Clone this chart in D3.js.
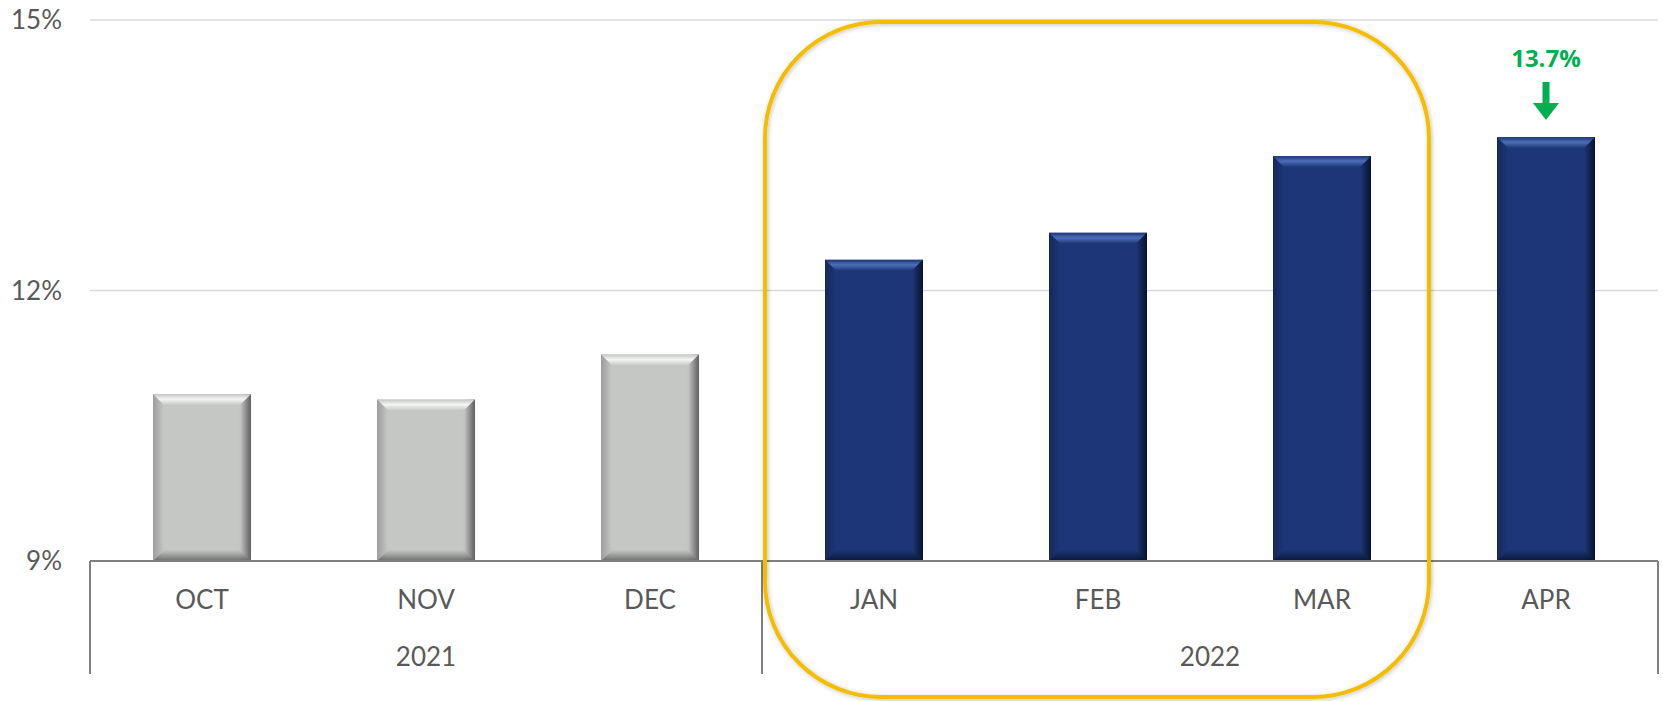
<!DOCTYPE html>
<html>
<head>
<meta charset="utf-8">
<script src="https://cdn.jsdelivr.net/npm/d3@7"></script>
<style>
  html, body { margin: 0; padding: 0; background: #fff; }
  svg { display: block; }
</style>
</head>
<body>
<svg id="chart" width="1663" height="701"></svg>
<script>
// ---- data ----
const months = ["OCT", "NOV", "DEC", "JAN", "FEB", "MAR", "APR"];
const years = ["2021", "2021", "2021", "2022", "2022", "2022", "2022"];
const values = [10.85, 10.79, 11.29, 12.34, 12.64, 13.49, 13.70];
const yTicks = [9, 12, 15];
const calloutIndex = 6;
const calloutLabel = "13.7%";
const highlightFrom = "JAN";
const highlightTo = "MAR";

// ---- layout ----
const plotL = 90, plotR = 1658, plotT = 20, plotB = 561;
const svg = d3.select("#chart");
const defs = svg.append("defs");

const x = d3.scaleBand().domain(months).range([plotL, plotR]).paddingInner(0.5625).paddingOuter(0.28125);
const y = d3.scaleLinear().domain([9, 15]).range([plotB, plotT]);

const textColor = "#595959";
const fontFam = "Lato, 'Open Sans', 'Liberation Sans', sans-serif";

// gridlines
svg.append("g").selectAll("line").data(yTicks.filter(t => t !== 9)).join("line")
  .attr("x1", plotL).attr("x2", plotR)
  .attr("y1", d => y(d)).attr("y2", d => y(d))
  .attr("stroke", "#d9d9d9").attr("stroke-width", 1.5);

// y tick labels
svg.append("g").selectAll("text").data(yTicks).join("text")
  .attr("x", 62).attr("y", d => y(d)).attr("dy", "0.35em")
  .attr("text-anchor", "end")
  .attr("font-family", fontFam).attr("font-size", 26).attr("fill", textColor)
  .text(d => d + "%");

// palettes
const pal = {
  "2021": { face: "#c5c7c5", light: "#f4f5f4", dark: "#5e5f5e", mid: "#9c9d9c" },
  "2022": { face: "#1c3677", light: "#4d6fb8", dark: "#07122e", mid: "#13285b" }
};

Object.entries(pal).forEach(([k, p]) => {
  const gh = defs.append("linearGradient").attr("id", "h" + k).attr("x1", 0).attr("x2", 1).attr("y1", 0).attr("y2", 0);
  gh.append("stop").attr("offset", 0).attr("stop-color", p.mid);
  gh.append("stop").attr("offset", 0.1).attr("stop-color", p.face);
  gh.append("stop").attr("offset", 0.88).attr("stop-color", p.face);
  gh.append("stop").attr("offset", 1).attr("stop-color", p.dark);
  const gt = defs.append("linearGradient").attr("id", "t" + k).attr("x1", 0).attr("x2", 0).attr("y1", 0).attr("y2", 1);
  gt.append("stop").attr("offset", 0).attr("stop-color", p.face);
  gt.append("stop").attr("offset", 0.45).attr("stop-color", p.light);
  gt.append("stop").attr("offset", 1).attr("stop-color", p.face);
  const gr = defs.append("linearGradient").attr("id", "r" + k).attr("x1", 0).attr("x2", 1).attr("y1", 0).attr("y2", 0);
  gr.append("stop").attr("offset", 0).attr("stop-color", p.face);
  gr.append("stop").attr("offset", 1).attr("stop-color", p.dark);
  const gl = defs.append("linearGradient").attr("id", "l" + k).attr("x1", 0).attr("x2", 1).attr("y1", 0).attr("y2", 0);
  gl.append("stop").attr("offset", 0).attr("stop-color", p.mid);
  gl.append("stop").attr("offset", 1).attr("stop-color", p.face);
  const gb = defs.append("linearGradient").attr("id", "b" + k).attr("x1", 0).attr("x2", 0).attr("y1", 0).attr("y2", 1);
  gb.append("stop").attr("offset", 0).attr("stop-color", p.face);
  gb.append("stop").attr("offset", 1).attr("stop-color", p.dark);
});

// bars
const bv = 11;
const bars = svg.append("g").selectAll("g").data(months).join("g");
bars.each(function (m, i) {
  const g = d3.select(this);
  const k = years[i];
  const x0 = x(m), x1 = x(m) + x.bandwidth();
  const y0 = y(values[i]), y1 = y(9);
  g.append("rect").attr("x", x0).attr("y", y0).attr("width", x1 - x0).attr("height", y1 - y0)
    .attr("fill", `url(#h${k})`);
  g.append("polygon").attr("points", [[x0, y0], [x1, y0], [x1 - bv, y0 + bv], [x0 + bv, y0 + bv]].join(" "))
    .attr("fill", `url(#t${k})`);
  g.append("polygon").attr("points", [[x0, y0], [x0 + bv, y0 + bv], [x0 + bv, y1 - bv], [x0, y1]].join(" "))
    .attr("fill", `url(#l${k})`).attr("opacity", 0.9);
  g.append("polygon").attr("points", [[x1, y0], [x1 - bv, y0 + bv], [x1 - bv, y1 - bv], [x1, y1]].join(" "))
    .attr("fill", `url(#r${k})`);
  g.append("polygon").attr("points", [[x0, y1], [x0 + bv, y1 - bv], [x1 - bv, y1 - bv], [x1, y1]].join(" "))
    .attr("fill", `url(#b${k})`).attr("opacity", 0.85);
});

// axis line and dividers
const yearGroups = d3.groups(months.map((m, i) => ({ m, yr: years[i] })), d => d.yr);
const halfGap = x.step() * x.paddingInner() / 2;
const groupStart = arr => x(arr[0].m) - halfGap;
const groupEnd = arr => x(arr[arr.length - 1].m) + x.bandwidth() + halfGap;
const divX = [plotL];
yearGroups.forEach(([yr, arr], gi) => divX.push(gi === yearGroups.length - 1 ? plotR : groupEnd(arr)));

svg.append("line").attr("x1", plotL).attr("x2", plotR).attr("y1", plotB).attr("y2", plotB)
  .attr("stroke", "#7f7f7f").attr("stroke-width", 2);
svg.append("g").selectAll("line").data(divX).join("line")
  .attr("x1", d => d).attr("x2", d => d).attr("y1", plotB).attr("y2", 674)
  .attr("stroke", "#7f7f7f").attr("stroke-width", 2);

// category labels
svg.append("g").selectAll("text").data(months).join("text")
  .attr("x", d => x(d) + x.bandwidth() / 2).attr("y", 600).attr("dy", "0.35em")
  .attr("text-anchor", "middle").attr("font-family", fontFam).attr("font-size", 26).attr("fill", textColor)
  .text(d => d);

// year labels
svg.append("g").selectAll("text").data(yearGroups).join("text")
  .attr("x", ([yr, arr], gi) => (gi === 0 ? plotL : groupStart(arr)) / 2 + (gi === yearGroups.length - 1 ? plotR : groupEnd(arr)) / 2)
  .attr("y", 657).attr("dy", "0.35em")
  .attr("text-anchor", "middle").attr("font-family", fontFam).attr("font-size", 26).attr("fill", textColor)
  .text(([yr]) => yr);

// highlight rounded rectangle
const sh = defs.append("filter").attr("id", "shadow").attr("x", -0.05).attr("y", -0.05).attr("width", 1.1).attr("height", 1.1);
sh.append("feDropShadow").attr("dx", 1).attr("dy", 1).attr("stdDeviation", 2).attr("flood-color", "#000").attr("flood-opacity", 0.25);
const hx0 = x(highlightFrom) - halfGap + 3;
const hx1 = x(highlightTo) + x.bandwidth() + halfGap - 5;
svg.append("rect")
  .attr("x", hx0).attr("y", 22).attr("width", hx1 - hx0).attr("height", 675)
  .attr("rx", 116).attr("ry", 116)
  .attr("fill", "none").attr("stroke", "#f5bd00").attr("stroke-width", 4)
  .attr("filter", "url(#shadow)");

// callout
const cm = months[calloutIndex];
const cx = x(cm) + x.bandwidth() / 2;
svg.append("text").attr("x", cx).attr("y", 59).attr("dy", "0.35em")
  .attr("text-anchor", "middle").attr("font-family", "'Open Sans', Lato, sans-serif").attr("font-weight", "bold")
  .attr("font-size", 24).attr("fill", "#00b050").text(calloutLabel);
svg.append("rect").attr("x", cx - 3.5).attr("y", 82).attr("width", 7).attr("height", 24).attr("fill", "#00b050");
svg.append("polygon").attr("points", [[cx - 13, 103], [cx + 13, 103], [cx, 120]].join(" ")).attr("fill", "#00b050");
</script>
</body>
</html>
